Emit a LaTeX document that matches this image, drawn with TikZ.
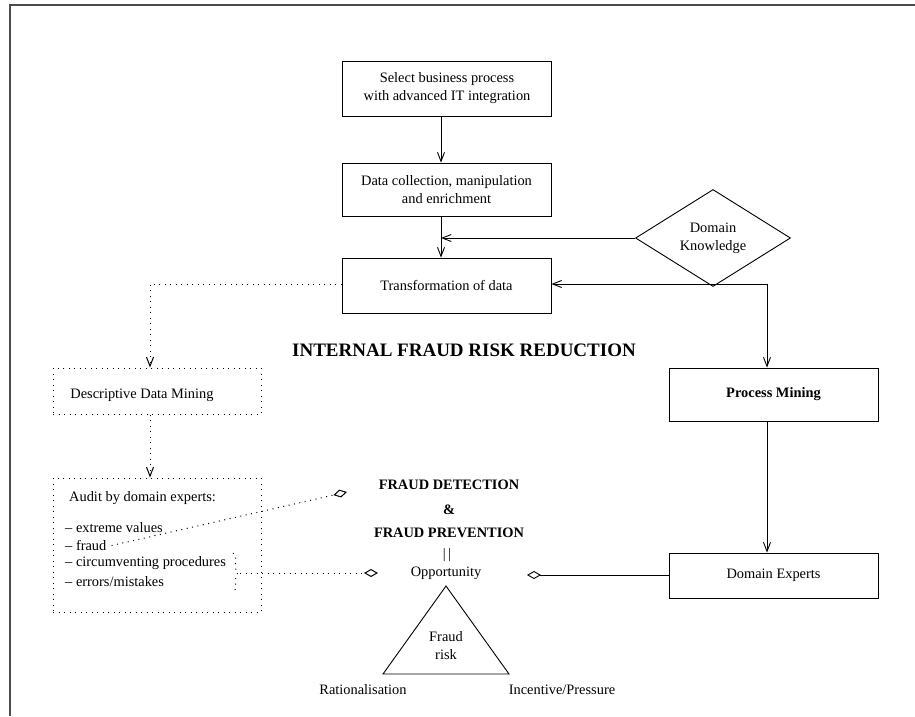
\documentclass[tikz,border=0pt]{standalone}
\usepackage{fontspec}
\setmainfont{Liberation Serif}
\usetikzlibrary{arrows.meta,shapes.geometric,decorations.pathreplacing}
\begin{document}
\begin{tikzpicture}[x=1pt,y=-1pt,
  every node/.style={font=\fontsize{14.4}{18}\selectfont, inner sep=0pt},
  box/.style={draw, line width=0.9pt, minimum width=209pt, align=center},
  dotsty/.style={line width=1pt, dash pattern=on 1pt off 4.5pt},
  dbox/.style={draw, dotsty, minimum width=208pt, align=center},
  conn/.style={line width=0.9pt},
  barb/.style={-{Straight Barb[length=9pt,width=7pt]}},
  dbarb/.style={{Straight Barb[length=9pt,width=7pt]}-{Straight Barb[length=9pt,width=7pt]}},
  dtip/.style={-{Diamond[open,length=14pt,width=8pt]}},
  bold/.style={font=\fontsize{14.4}{18}\selectfont\bfseries},
  ]
\useasboundingbox (0,0) rectangle (915,716);
% frame
\coordinate (fbl) at (10,716);
\coordinate (ftl) at (10,5);
\coordinate (ftr) at (915,5);
\draw[line width=1.5pt, gray!60!black] (fbl) -- (ftl) -- (ftr);

% main flow
\node[box, minimum height=55pt] (sel) at (447,88.5) {Select business process\\with advanced IT integration};
\node[box, minimum height=53pt] (dc) at (446.5,189.5) {Data collection, manipulation\\and enrichment};
\node[box, minimum height=55pt] (tr) at (446.5,285.5) {Transformation of data};
\node[draw, diamond, line width=0.9pt, minimum width=155pt, minimum height=86pt, align=center] (dk) at (713,238) {Domain\\Knowledge};
\node[box, bold, minimum height=53pt] (pm) at (773.5,394.5) {Process Mining};
\node[box, minimum height=45pt] (de) at (773.5,575.5) {Domain Experts};

% left dotted boxes
\node[dbox, minimum height=46pt] (ddm) at (157,391) {};
\node (ddmt) at (142,395) {Descriptive Data Mining};
\node[dbox, minimum height=134pt] (aud) at (157,545) {};
\node[anchor=west] (audt) at (69,498) {Audit by domain experts:};
\node[anchor=west] (i1) at (65,528) {-- extreme values};
\node[anchor=west] (i2) at (65,545.5) {-- fraud};
\node[anchor=west] (i3) at (65,563.5) {-- circumventing procedures};
\node[anchor=west] (i4) at (65,582) {-- errors/mistakes};

% title
\node[font=\fontsize{19}{22}\selectfont\bfseries] (title) at (464,350) {INTERNAL FRAUD RISK REDUCTION};

% fraud detection block
\node[bold] (fd) at (449,485) {FRAUD DETECTION};
\node[bold] (amp) at (449,510) {\&};
\node[bold] (fp) at (449,533) {FRAUD PREVENTION};
\node (eq) at (447,555) {|\,|};
\node (opp) at (446,573) {Opportunity};

% fraud triangle
\coordinate (ta) at (446,586);
\coordinate (tbl) at (383,674);
\coordinate (tbr) at (509,674);
\draw[line width=0.9pt] (ta) -- (tbl) -- (tbr) -- cycle;
\node[align=center] (fr) at (446,645.5) {Fraud\\risk};
\node (rat) at (363,690) {Rationalisation};
\node (inc) at (562,690) {Incentive/Pressure};

% solid connectors
\draw[conn,barb] ([xshift=-6pt]sel.south) -- ([xshift=-5.5pt]dc.north);
\draw[conn,barb] ([xshift=-5.5pt]dc.south) -- ([xshift=-5.5pt]tr.north);
\coordinate (dkin) at (441,238);
\draw[conn,barb] (dk.west) -- (dkin);
\draw[conn,dbarb] ([yshift=1.5pt]tr.east) -| ([xshift=-6.5pt]pm.north);
\draw[conn,barb] ([xshift=-6.5pt]pm.south) -- ([xshift=-6.5pt]de.north);
\coordinate (oppR) at (527,575);
\draw[conn,dtip] (de.west |- oppR) -- (oppR);

% dotted connectors
\draw[dotsty,barb] ([yshift=1.5pt]tr.west) -| ([xshift=-7pt]ddm.north);
\draw[dotsty,barb] ([xshift=-7pt]ddm.south) -- ([xshift=-7pt]aud.north);
\coordinate (fdtip) at (347,492);
\draw[dotsty,dtip] ([xshift=5pt]i2.east) -- (fdtip);
\coordinate (brT) at (233,553);
\coordinate (brB) at (233,593);
\draw[dotsty, decorate, decoration={brace, amplitude=5pt}] (brT) -- (brB);
\coordinate (brTip) at (240,573);
\coordinate (oppL) at (378,573);
\draw[dotsty,dtip] (brTip) -- (oppL);
\end{tikzpicture}
\end{document}
